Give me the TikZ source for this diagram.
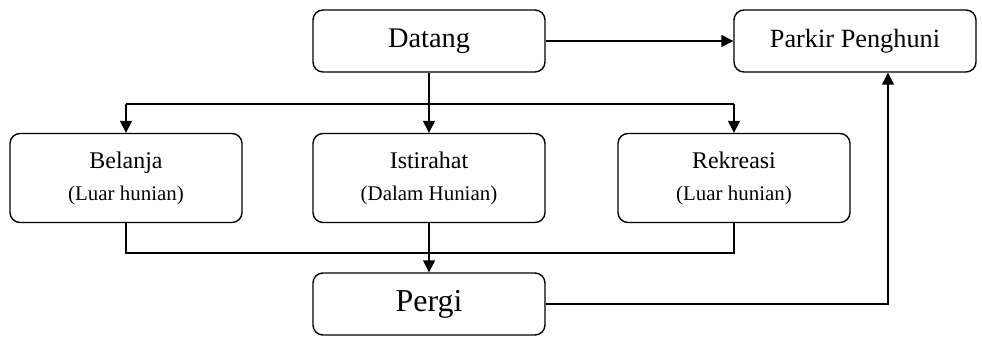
\documentclass[tikz,border=0pt]{standalone}
\usepackage{fontspec}
\setmainfont{Liberation Serif}
\usetikzlibrary{positioning, calc, arrows.meta}

\tikzset{
  box/.style={draw, line width=1.4bp, rounded corners=10bp, minimum width=232bp, align=center, inner sep=0pt},
  onebox/.style={box, minimum height=62bp},
  twobox/.style={box, minimum height=89bp, font=\fontsize{24}{32}\selectfont},
  link/.style={line width=1.4bp},
  arr/.style={link, -{Triangle[length=12bp, width=12bp]}}
}
\newcommand{\sub}[1]{{\fontsize{21}{32}\selectfont #1}}

\begin{document}
\begin{tikzpicture}[x=1bp, y=-1bp]
		
		\useasboundingbox (0,0) rectangle (982,336);
		
		%//top row
		\node [onebox, font=\fontsize{28.5}{34}\selectfont] (datang) at (429, 41) {Datang};
		\node [onebox, minimum width=242bp, font=\fontsize{26.4}{32}\selectfont] (parkir) at (855, 41) {Parkir Penghuni};
		
		%//middle row
		\foreach \name/\x/\top/\bot in {belanja/126/Belanja/Luar hunian, istirahat/429/Istirahat/Dalam Hunian, rekreasi/734/Rekreasi/Luar hunian}
		\node [twobox] (\name) at (\x, 178) {\top\\\sub{(\bot)}};
		
		%//bottom
		\node [onebox, font=\fontsize{32}{38}\selectfont] (pergi) at (429, 304) {Pergi};
		
		\coordinate (split) at (429, 104);
		\coordinate (join) at (429, 253);
		
		\draw [arr] (datang) -- (parkir);
		\draw [arr] (datang) -- (istirahat);
		\draw [link] (belanja.north |- split) -- (rekreasi.north |- split);
		\draw [arr] (belanja.north |- split) -- (belanja.north);
		\draw [arr] (rekreasi.north |- split) -- (rekreasi.north);
		
		\draw [link] (belanja.south) -- (belanja.south |- join) -- (rekreasi.south |- join) -- (rekreasi.south);
		\draw [arr] (istirahat) -- (pergi);
		
		\draw [arr] (pergi.east) -| ([xshift=33bp]parkir.south);
		\end{tikzpicture}
\end{document}
